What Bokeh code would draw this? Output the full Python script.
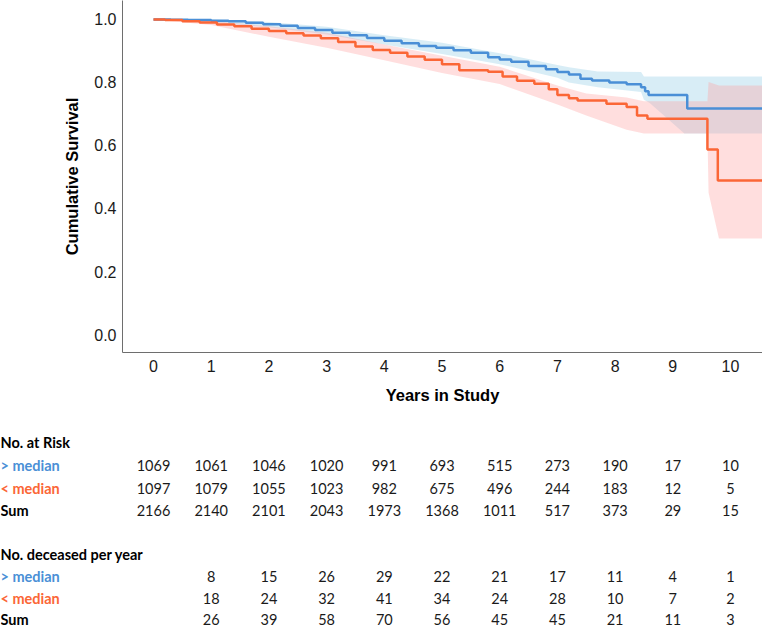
from bokeh.plotting import figure
from bokeh.models import Range1d, FixedTicker, PrintfTickFormatter, Label, ColumnDataSource
from bokeh.embed import file_html
from bokeh.resources import INLINE
from bokeh.core.properties import value

# ---------------- data ----------------
years = [0, 1, 2, 3, 4, 5, 6, 7, 8, 9, 10]
year_labels = [str(y) for y in years]
y_ticks = [0.0, 0.2, 0.4, 0.6, 0.8, 1.0]

# Kaplan-Meier step curves (> median = blue, < median = orange)
blue_t = [0, 0.3, 0.6, 1.0, 1.3, 1.6, 1.9, 2.2, 2.5, 2.8, 3.1, 3.4, 3.7, 4.0, 4.3, 4.6, 4.9,
          5.2, 5.5, 5.8, 6.0, 6.2, 6.5, 6.8, 7.0, 7.2, 7.4, 7.6, 7.9, 8.2, 8.45, 8.52, 8.58, 9.25]
blue_s = [1.0, 0.999, 0.998, 0.996, 0.994, 0.989, 0.985, 0.980, 0.973, 0.966, 0.958, 0.950, 0.941,
          0.932, 0.924, 0.916, 0.910, 0.902, 0.894, 0.880, 0.873, 0.866, 0.852, 0.842, 0.833, 0.825,
          0.812, 0.806, 0.800, 0.794, 0.785, 0.772, 0.760, 0.717]

orange_t = [0, 0.2, 0.5, 0.8, 1.1, 1.4, 1.7, 2.0, 2.3, 2.6, 2.9, 3.2, 3.5, 3.8, 4.1, 4.4, 4.7,
            5.0, 5.3, 5.8, 6.05, 6.3, 6.6, 6.85, 7.0, 7.2, 7.35, 7.85, 8.2, 8.38, 8.56, 9.6, 9.78]
orange_s = [1.0, 0.998, 0.994, 0.990, 0.984, 0.978, 0.970, 0.963, 0.956, 0.949, 0.940, 0.928, 0.914,
            0.903, 0.894, 0.882, 0.872, 0.858, 0.839, 0.834, 0.819, 0.805, 0.796, 0.778, 0.760, 0.750,
            0.743, 0.732, 0.722, 0.695, 0.685, 0.587, 0.489]

# 95% confidence bands
blue_band_t = [0, 1.0, 2.0, 3.0, 4.0, 5.0, 6.0, 7.0, 7.2, 7.7, 8.45, 8.5, 8.6, 9.2]
blue_band_lo = [1.0, 0.990, 0.975, 0.952, 0.920, 0.890, 0.858, 0.815, 0.800, 0.785, 0.770, 0.745, 0.735, 0.638]
blue_band_hi = [1.0, 1.0, 0.992, 0.977, 0.950, 0.926, 0.893, 0.855, 0.848, 0.835, 0.833, 0.819, 0.819, 0.819]

orange_band_t = [0, 1.0, 2.0, 3.0, 4.0, 5.0, 6.0, 7.0, 7.5, 8.2, 8.5, 9.6, 9.62, 9.8]
orange_band_lo = [1.0, 0.982, 0.945, 0.910, 0.870, 0.830, 0.795, 0.730, 0.695, 0.650, 0.638, 0.638, 0.45, 0.305]
orange_band_hi = [1.0, 0.996, 0.978, 0.958, 0.920, 0.885, 0.850, 0.790, 0.765, 0.752, 0.740, 0.740, 0.801, 0.790]

# table
risk_above = [1069, 1061, 1046, 1020, 991, 693, 515, 273, 190, 17, 10]
risk_below = [1097, 1079, 1055, 1023, 982, 675, 496, 244, 183, 12, 5]
risk_sum = [2166, 2140, 2101, 2043, 1973, 1368, 1011, 517, 373, 29, 15]
dec_years = [1, 2, 3, 4, 5, 6, 7, 8, 9, 10]
dec_above = [8, 15, 26, 29, 22, 21, 17, 11, 4, 1]
dec_below = [18, 24, 32, 41, 34, 24, 28, 10, 7, 2]
dec_sum = [26, 39, 58, 70, 56, 45, 45, 21, 11, 3]

# ---------------- style ----------------
BLUE = "#4a8fd6"
ORANGE = "#fb6636"
W = 762
FRAME_LEFT = 122
PX_PER_YEAR = 57.7
X0_PX = 153  # pixel of year 0
x_start = -(X0_PX - FRAME_LEFT) / PX_PER_YEAR
x_end = (W - X0_PX) / PX_PER_YEAR

p = figure(width=W, height=415, output_backend="svg", toolbar_location=None,
           x_range=Range1d(x_start, x_end), y_range=Range1d(-0.057, 1.060),
           min_border_left=FRAME_LEFT, min_border_right=0, min_border_top=0, min_border_bottom=63)
p.outline_line_color = None
p.grid.visible = False
p.background_fill_color = "white"
p.border_fill_color = "white"

# bands
p.varea(x=blue_band_t + [x_end], y1=blue_band_lo + [blue_band_lo[-1]], y2=blue_band_hi + [blue_band_hi[-1]],
        fill_color="#a8d8ea", fill_alpha=0.45)
p.varea(x=orange_band_t + [x_end], y1=orange_band_lo + [orange_band_lo[-1]], y2=orange_band_hi + [orange_band_hi[-1]],
        fill_color="#ffa0a0", fill_alpha=0.35)

# curves
p.step(x=blue_t + [x_end], y=blue_s + [blue_s[-1]], mode="after", line_color=BLUE, line_width=2.5)
p.step(x=orange_t + [x_end], y=orange_s + [orange_s[-1]], mode="after", line_color=ORANGE, line_width=2.5)

for ax in (p.xaxis[0], p.yaxis[0]):
    ax.axis_line_color = "#6e6e6e"
    ax.axis_line_width = 1
    ax.major_tick_line_color = None
    ax.minor_tick_line_color = None
    ax.major_tick_out = 0
    ax.major_tick_in = 0
    ax.major_label_text_font = "Liberation Sans"
    ax.major_label_text_font_size = "16px"
    ax.major_label_text_color = "#1a1a1a"
    ax.axis_label_text_font = "Liberation Sans"
    ax.axis_label_text_font_size = "16.5px"
    ax.axis_label_text_font_style = "bold"
    ax.axis_label_text_color = "#000000"

p.xaxis.ticker = FixedTicker(ticks=years)
p.xaxis.major_label_overrides = {y: s for y, s in zip(years, year_labels)}
p.xaxis.major_label_standoff = 7
p.xaxis.axis_label = "Years in Study"
p.xaxis.axis_label_standoff = 11

p.yaxis.ticker = FixedTicker(ticks=y_ticks)
p.yaxis.formatter = PrintfTickFormatter(format="%.1f")
p.yaxis.major_label_standoff = 6
p.yaxis.axis_label = "Cumulative Survival"
p.yaxis.axis_label_standoff = 10

# ---------------- table (separate root, frame spans full width) ----------------
TH = 212
t = figure(width=W, height=TH, output_backend="svg", toolbar_location=None,
           x_range=Range1d(-X0_PX / PX_PER_YEAR, x_end), y_range=Range1d(TH, 0),
           min_border_left=0, min_border_right=0, min_border_top=0, min_border_bottom=0)
t.outline_line_color = None
t.grid.visible = False
t.axis.visible = False
t.background_fill_color = "white"
t.border_fill_color = "white"

ROW_Y = {"risk_head": 27, "risk_above": 50, "risk_below": 73, "risk_sum": 95,
         "dec_head": 139, "dec_above": 161, "dec_below": 183, "dec_sum": 204}
TFONT = "Lato"
TSIZE = "14.5px"
label_x = -X0_PX / PX_PER_YEAR  # left edge of the canvas, in data units

rows = [
    ("No. at Risk", "risk_head", "#000000", "bold", None, None),
    ("> median", "risk_above", BLUE, "bold", years, risk_above),
    ("< median", "risk_below", ORANGE, "bold", years, risk_below),
    ("Sum", "risk_sum", "#000000", "bold", years, risk_sum),
    ("No. deceased per year", "dec_head", "#000000", "bold", None, None),
    ("> median", "dec_above", BLUE, "bold", dec_years, dec_above),
    ("< median", "dec_below", ORANGE, "bold", dec_years, dec_below),
    ("Sum", "dec_sum", "#000000", "bold", dec_years, dec_sum),
]
for label, key, color, style, xs, vals in rows:
    yy = ROW_Y[key]
    t.add_layout(Label(x=label_x, y=yy, x_units="data", text=label, text_font=TFONT,
                       text_font_size=TSIZE, text_font_style=style, text_color=color,
                       text_baseline="middle", text_align="left"))
    if xs is not None:
        src = ColumnDataSource(dict(x=xs, y=[yy] * len(xs), txt=[str(v) for v in vals]))
        t.text(x="x", y="y", text="txt", source=src, text_font=value(TFONT),
               text_font_size=TSIZE, text_color="#1a1a1a", text_align="center",
               text_baseline="middle")

open("out.html", "w").write(file_html([p, t], INLINE))
